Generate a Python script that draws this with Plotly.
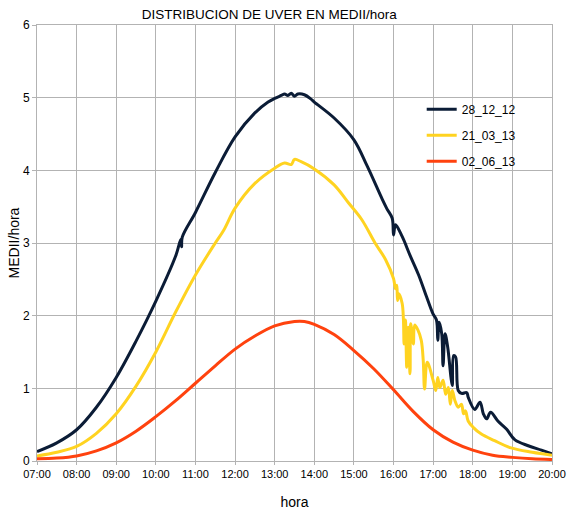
import plotly.graph_objects as go

DAY = "2013-01-01 "

# 28_12_12
t_dec = ["07:00","07:30","08:00","08:30","09:00","09:30","10:00","10:30","10:38","10:39","10:40",
         "11:00","11:30","12:00","12:30","12:50","13:00","13:10","13:15","13:20","13:25","13:30",
         "13:35","13:45","13:55","14:00","14:30","15:00","15:20","15:43","15:50","15:58","16:00",
         "16:03","16:13","16:25","16:38","16:50","17:00","17:05","17:07","17:09","17:13","17:15",
         "17:18","17:22","17:27","17:29","17:31","17:34","17:38","17:43","17:51","17:53","18:03",
         "18:11","18:16","18:21","18:27","18:38","18:51","19:04","19:24","19:44","20:00"]
v_dec = [0.13,0.25,0.43,0.74,1.15,1.65,2.20,2.82,3.05,2.95,3.08,
         3.42,3.97,4.46,4.79,4.94,4.99,5.03,5.05,5.03,5.06,5.02,
         5.05,5.04,4.98,4.94,4.72,4.42,4.06,3.60,3.47,3.34,3.11,
         3.25,3.09,2.83,2.56,2.26,2.02,1.94,1.66,1.91,1.75,1.31,
         1.75,1.57,1.15,1.04,1.45,1.43,0.97,0.93,0.94,0.88,0.71,
         0.81,0.65,0.58,0.67,0.55,0.44,0.29,0.21,0.15,0.10]

# 21_03_13
t_mar = ["07:00","07:30","08:00","08:30","09:00","09:30","10:00","10:30","11:00","11:30","11:43",
         "12:00","12:30","13:00","13:15","13:25","13:30","13:40","14:00","14:30","14:52","15:12",
         "15:32","15:48","16:00","16:03","16:05","16:06","16:08","16:13","16:15","16:16","16:18",
         "16:20","16:22","16:25","16:26","16:30","16:32","16:37","16:42","16:45","16:47","16:51",
         "17:00","17:04","17:07","17:10","17:15","17:19","17:23","17:26","17:29","17:33","17:38",
         "17:43","17:46","17:49","17:53","18:01","18:13","18:33","18:58","19:30","20:00"]
v_mar = [0.07,0.12,0.20,0.38,0.65,1.03,1.50,2.05,2.56,3.00,3.18,
         3.48,3.82,4.03,4.10,4.08,4.15,4.12,4.02,3.80,3.55,3.32,
         3.00,2.77,2.51,2.37,2.42,2.21,2.30,2.17,1.94,1.61,1.94,
         1.29,1.84,1.20,1.89,1.61,1.87,1.80,1.66,1.38,0.99,1.36,
         1.11,0.97,1.15,1.01,1.11,0.92,1.01,0.78,0.97,0.83,0.74,
         0.78,0.65,0.69,0.55,0.46,0.37,0.28,0.18,0.12,0.08]

# 02_06_13
t_jun = ["07:00","07:30","08:00","08:30","09:00","09:30","10:00","10:30","11:00","11:30","12:00",
         "12:30","13:00","13:30","13:45","14:00","14:30","15:00","15:30","16:00","16:30","17:00",
         "17:30","18:00","18:30","19:00","19:30","20:00"]
v_jun = [0.03,0.04,0.07,0.14,0.25,0.41,0.61,0.83,1.07,1.31,1.54,
         1.72,1.86,1.92,1.92,1.88,1.74,1.52,1.27,0.98,0.68,0.43,
         0.26,0.15,0.08,0.05,0.03,0.02]

series = [
    ("28_12_12", t_dec, v_dec, "#0b1c36"),
    ("21_03_13", t_mar, v_mar, "#ffd320"),
    ("02_06_13", t_jun, v_jun, "#ff420e"),
]

y_ticks = [0, 1, 2, 3, 4, 5, 6]
x_tick_labels = ["07:00","08:00","09:00","10:00","11:00","12:00","13:00",
                 "14:00","15:00","16:00","17:00","18:00","19:00","20:00"]

FONT = "Liberation Sans, Arial, sans-serif"

fig = go.Figure()
for name, t, v, col in series:
    fig.add_trace(go.Scatter(
        x=[DAY + s for s in t], y=v, name=name, mode="lines",
        line=dict(color=col, width=3, shape="spline", smoothing=1.0),
        legendgroup=name,
    ))

fig.update_layout(
    width=567, height=513,
    margin=dict(l=37, r=15, t=25, b=52),
    paper_bgcolor="white", plot_bgcolor="white",
    title=dict(text="DISTRIBUCION DE UVER EN MEDII/hora", x=0.475, xanchor="center",
               y=0.972, yanchor="middle",
               font=dict(family=FONT, size=13.5, color="black")),
    font=dict(family=FONT, color="black"),
    showlegend=True,
    legend=dict(x=0.747, y=0.84, xanchor="left", yanchor="top",
                bgcolor="rgba(0,0,0,0)", tracegroupgap=7,
                font=dict(family=FONT, size=12, color="black")),
    xaxis=dict(
        type="date",
        range=[DAY + x_tick_labels[0], DAY + x_tick_labels[-1]],
        tickvals=[DAY + s for s in x_tick_labels], ticktext=x_tick_labels,
        ticklabeloverflow="allow",
        showgrid=True, gridcolor="#b3b3b3", gridwidth=1,
        showline=True, linecolor="#b3b3b3", mirror=True,
        ticks="outside", ticklen=3, tickcolor="#b3b3b3",
        tickfont=dict(family=FONT, size=11, color="black"),
        zeroline=False, automargin=False,
        title=dict(text="hora", font=dict(family=FONT, size=14), standoff=17),
    ),
    yaxis=dict(
        range=[0, 6], tickvals=y_ticks,
        showgrid=True, gridcolor="#b3b3b3", gridwidth=1,
        showline=True, linecolor="#b3b3b3", mirror=True,
        ticks="outside", ticklen=4, tickcolor="#b3b3b3",
        tickfont=dict(family=FONT, size=12, color="black"),
        zeroline=False, automargin=False,
        title=dict(text="MEDII/hora", font=dict(family=FONT, size=14), standoff=0),
    ),
)

fig.write_html("out.html", config={"displayModeBar": False},
               post_script="document.body.style.margin='0';")
